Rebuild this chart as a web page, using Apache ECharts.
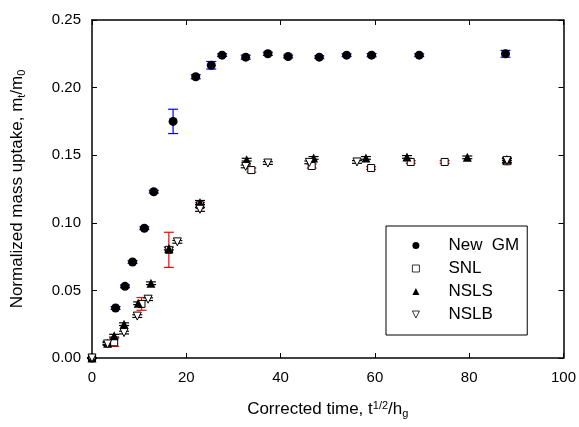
<!DOCTYPE html>
<html>
<head>
<meta charset="utf-8">
<script src="https://cdn.jsdelivr.net/npm/echarts@6/dist/echarts.min.js"></script>
<style>
  html, body { margin: 0; padding: 0; background: #fff; }
  #chart { width: 579px; height: 427px; }
</style>
</head>
<body>
<div id="chart"></div>
<script>
// data
var gmX = [0, 5.0, 7.0, 8.6, 11.1, 13.1, 17.2, 22.0, 25.3, 27.6, 32.6, 37.3, 41.6, 48.2, 54.0, 59.3, 69.4, 87.7];
var gmY = [0, 0.037, 0.053, 0.071, 0.096, 0.123, 0.175, 0.208, 0.2165, 0.224, 0.2225, 0.225, 0.223, 0.2225, 0.224, 0.224, 0.224, 0.225];
var gmErr = [0, 0.001, 0.001, 0.001, 0.001, 0.001, 0.009, 0.0015, 0.0028, 0.001, 0.0015, 0.0012, 0.001, 0.001, 0.001, 0.0012, 0.001, 0.0025];

var snlX = [0, 4.7, 10.5, 16.3, 22.9, 33.8, 46.6, 59.2, 67.6, 74.8, 88.0];
var snlY = [0, 0.0116, 0.040, 0.080, 0.113, 0.139, 0.142, 0.1405, 0.145, 0.145, 0.1455];
var snlErr = [0, 0.003, 0.0047, 0.013, 0.002, 0.0015, 0.0015, 0.001, 0.001, 0.001, 0.002];

var nslsX = [0, 3.3, 4.7, 6.8, 9.8, 12.5, 16.3, 22.9, 32.8, 47.0, 58.1, 66.8, 79.6, 88.0];
var nslsY = [0, 0.011, 0.0165, 0.025, 0.0405, 0.0553, 0.081, 0.115, 0.1467, 0.148, 0.148, 0.1487, 0.1484, 0.147];
var nslsErr = [0, 0.001, 0.001, 0.001, 0.001, 0.001, 0.001, 0.0015, 0.001, 0.001, 0.001, 0.001, 0.001, 0.001];

var nslbX = [0, 3.3, 6.8, 9.6, 11.9, 18.1, 22.9, 32.6, 37.3, 46.1, 56.2, 88.0];
var nslbY = [0, 0.0104, 0.0188, 0.031, 0.0435, 0.0859, 0.110, 0.1417, 0.1442, 0.1447, 0.145, 0.146];
var nslbErr = [0, 0.001, 0.001, 0.001, 0.001, 0.001, 0.0015, 0.001, 0.001, 0.001, 0.001, 0.0015];

var xTicks = [0, 20, 40, 60, 80, 100];
var yTicks = [0, 0.05, 0.10, 0.15, 0.20, 0.25];

//拼点
function pts(xs, ys){
  return xs.map(function(x, i){ return [x, ys[i]]; });
}
function errs(xs, ys, es){
  return xs.map(function(x, i){ return [x, ys[i] - es[i], ys[i] + es[i]]; });
}

//误差棒
function errorSeries(data, color){
  return {
    type: 'custom',
    data: data,
    z: 1,
    silent: true,
    encode: { x: 0, y: [1, 2] },
    renderItem: function(params, api){
      var x = api.value(0);
      var lo = api.coord([x, api.value(1)]);
      var hi = api.coord([x, api.value(2)]);
      var w = 5;
      var st = { stroke: color, lineWidth: 1.2 };
      return {
        type: 'group',
        children: [
          { type: 'line', shape: { x1: lo[0], y1: lo[1], x2: hi[0], y2: hi[1] }, style: st },
          { type: 'line', shape: { x1: lo[0] - w, y1: lo[1], x2: lo[0] + w, y2: lo[1] }, style: st },
          { type: 'line', shape: { x1: hi[0] - w, y1: hi[1], x2: hi[0] + w, y2: hi[1] }, style: st }
        ]
      };
    }
  };
}

var axisFont = 'Liberation Sans, Arial, sans-serif';
var lineSt = { color: '#000', width: 1.5 };
var downTri = 'path://M0,0 L10,0 L5,10 Z';
var openSt = { color: '#fff', borderColor: '#000', borderWidth: 0.8 };

var chart = echarts.init(document.getElementById('chart'), null, { renderer: 'canvas' });
var option = {
  animation: false,
  grid: { left: 92, right: 12, top: 20, bottom: 69 },
  legend: {
    orient: 'vertical',
    left: 386,
    top: 226,
    backgroundColor: '#fff',
    borderColor: '#000',
    borderWidth: 1,
    padding: [11, 8, 12, 26],
    itemGap: 6,
    itemWidth: 7,
    itemHeight: 7,
    textStyle: { fontSize: 17, color: '#000', fontFamily: axisFont, padding: [0, 0, 0, 24] },
    data: [
      { name: 'New  GM', icon: 'circle', itemStyle: { color: '#000', borderWidth: 0 } },
      { name: 'SNL', icon: 'rect', itemStyle: openSt },
      { name: 'NSLS', icon: 'triangle', itemStyle: { color: '#000', borderWidth: 0 } },
      { name: 'NSLB', icon: downTri, itemStyle: openSt }
    ]
  },
  xAxis: [{
    type: 'value', min: 0, max: 100, interval: 20,
    axisLine: { onZero: false, lineStyle: lineSt },
    axisTick: { inside: true, length: 5, lineStyle: { color: '#000' } },
    axisLabel: { color: '#000', fontSize: 15, fontFamily: axisFont, margin: 12 },
    splitLine: { show: false },
    name: '{n|Corrected time, t}{sup|1/2}{n|/h}{sub|g}',
    nameLocation: 'middle',
    nameGap: 42,
    nameTextStyle: {
      color: '#000', fontFamily: axisFont,
      rich: {
        n: { fontSize: 17, color: '#000', fontFamily: axisFont },
        sup: { fontSize: 11, color: '#000', fontFamily: axisFont, verticalAlign: 'top', padding: [0, 0, 8, 0] },
        sub: { fontSize: 11, color: '#000', fontFamily: axisFont, verticalAlign: 'bottom', padding: [8, 0, 0, 0] }
      }
    }
  }, {
    type: 'value', min: 0, max: 100, interval: 20, position: 'top',
    axisLine: { onZero: false, lineStyle: lineSt },
    axisTick: { inside: true, length: 5, lineStyle: { color: '#000' } },
    axisLabel: { show: false },
    splitLine: { show: false }
  }],
  yAxis: [{
    type: 'value', min: 0, max: 0.25, interval: 0.05,
    axisLine: { onZero: false, lineStyle: lineSt },
    axisTick: { inside: true, length: 5, lineStyle: { color: '#000' } },
    axisLabel: { color: '#000', fontSize: 15, fontFamily: axisFont, margin: 11,
      formatter: function(v){ return v.toFixed(2); } },
    splitLine: { show: false },
    name: '{n|Normalized mass uptake, m}{sub|t}{n|/m}{sub|0}',
    nameLocation: 'middle',
    nameGap: 65,
    nameTextStyle: {
      color: '#000', fontFamily: axisFont,
      rich: {
        n: { fontSize: 17, color: '#000', fontFamily: axisFont },
        sub: { fontSize: 11, color: '#000', fontFamily: axisFont, verticalAlign: 'bottom', padding: [8, 0, 0, 0] }
      }
    }
  }, {
    type: 'value', min: 0, max: 0.25, interval: 0.05, position: 'right',
    axisLine: { onZero: false, lineStyle: lineSt },
    axisTick: { inside: true, length: 5, lineStyle: { color: '#000' } },
    axisLabel: { show: false },
    splitLine: { show: false }
  }],
  series: [
    errorSeries(errs(gmX, gmY, gmErr), '#0000ff'),
    errorSeries(errs(snlX, snlY, snlErr), '#ff0000'),
    errorSeries(errs(nslsX, nslsY, nslsErr), '#000'),
    errorSeries(errs(nslbX, nslbY, nslbErr), '#000'),
    {
      name: 'New  GM', type: 'scatter', z: 3,
      data: pts(gmX, gmY),
      symbol: 'circle', symbolSize: 9,
      itemStyle: { color: '#000', opacity: 1 }
    },
    {
      name: 'SNL', type: 'scatter', z: 3,
      data: pts(snlX, snlY),
      symbol: 'rect', symbolSize: 7,
      itemStyle: { color: '#fff', borderColor: '#000', borderWidth: 1, opacity: 1 }
    },
    {
      name: 'NSLS', type: 'scatter', z: 3,
      data: pts(nslsX, nslsY),
      symbol: 'triangle', symbolSize: 9,
      itemStyle: { color: '#000', opacity: 1 }
    },
    {
      name: 'NSLB', type: 'scatter', z: 3,
      data: pts(nslbX, nslbY),
      symbol: downTri, symbolSize: 8,
      itemStyle: { color: '#fff', borderColor: '#000', borderWidth: 1, opacity: 1 }
    }
  ]
};
chart.setOption(option);
</script>
</body>
</html>
